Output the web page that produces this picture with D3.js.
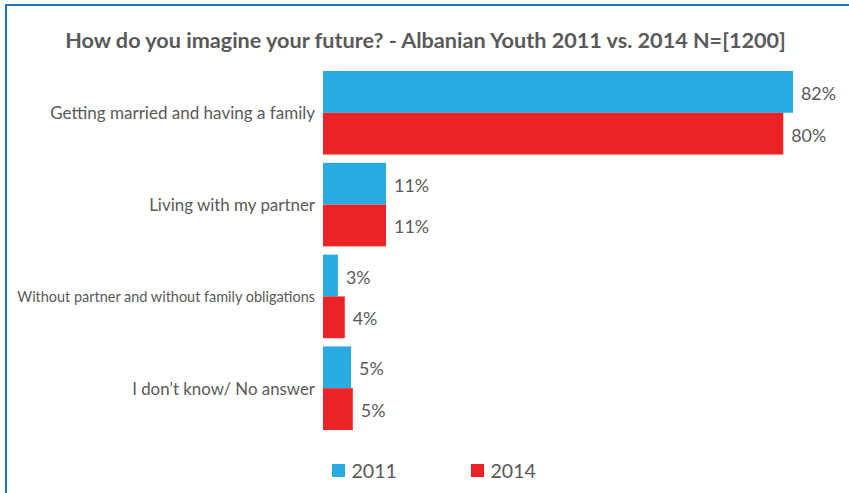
<!DOCTYPE html>
<html><head><meta charset="utf-8">
<script src="https://cdn.jsdelivr.net/npm/d3@7"></script>
<style>
html,body{margin:0;padding:0;background:#fff;}
svg{display:block;}
text{font-family:"Lato","Open Sans",sans-serif;fill:#595959;}
</style></head>
<body>
<svg id="chart" width="849" height="493"></svg>
<script>
const title = "How do you imagine your future? - Albanian Youth 2011 vs. 2014 N=[1200]";
const categories = ["Getting married and having a family", "Living with my partner", "Without partner and without family obligations", "I don\u2019t know/ No answer"];
const seriesNames = ["2011", "2014"];
const values2011 = [82, 11, 2.6, 4.9];
const values2014 = [80.3, 11, 3.8, 5.2];
const colors = ["#29abe2", "#ed2224"];

const svg = d3.select("#chart");
const W = 849, H = 493;

// frame
svg.append("path")
  .attr("d", `M6,${H} L6,5 L${W},5`)
  .attr("fill", "none").attr("stroke", "#1f78c1").attr("stroke-width", 2);

function fit(sel, target) {
  const node = sel.node();
  const fs = parseFloat(sel.attr("font-size"));
  const w = node.getComputedTextLength();
  const nf = fs * target / w;
  sel.attr("font-size", nf);
  return nf;
}

// title
const t = svg.append("text").attr("x", 425.5).attr("y", 48)
  .attr("text-anchor", "middle").attr("font-weight", "bold")
  .attr("font-size", 20).text(title);
fit(t, 721);

const x = d3.scaleLinear().domain([0, d3.max(values2011)]).range([323, 793]);
const y = d3.scaleBand().domain(categories).range([71, 430]).paddingInner(0.09).paddingOuter(0);
const ySub = d3.scaleBand().domain(seriesNames).range([0, y.bandwidth()]).padding(0);

const rows = categories.map((c, i) => ({cat: c, vals: [values2011[i], values2014[i]]}));

// size for value labels: "82%" about 35px wide
const probe = svg.append("text").attr("font-size", 17).text("82%");
const valueFs = fit(probe, 35);
probe.remove();

const labelWidths = [265, 166, 298, 183];
const g = svg.append("g");
rows.forEach((r, i) => {
  const gy = y(r.cat);
  const lab = g.append("text").attr("x", 315).attr("y", gy + y.bandwidth() / 2)
    .attr("text-anchor", "end").attr("dominant-baseline", "central")
    .attr("font-size", 15).text(r.cat);
  fit(lab, labelWidths[i]);
  r.vals.forEach((v, j) => {
    g.append("rect")
      .attr("x", x(0)).attr("y", gy + ySub(seriesNames[j]))
      .attr("width", x(v) - x(0)).attr("height", ySub.bandwidth())
      .attr("fill", colors[j]);
    g.append("text")
      .attr("x", x(v) + 8).attr("y", gy + ySub(seriesNames[j]) + ySub.bandwidth() / 2 + 1)
      .attr("dominant-baseline", "central").attr("font-size", valueFs)
      .text(Math.round(v) + "%");
  });
});

// legend
const legX = [332, 471];
seriesNames.forEach((s, j) => {
  svg.append("rect").attr("x", legX[j]).attr("y", 464).attr("width", 13).attr("height", 13).attr("fill", colors[j]);
  const lt = svg.append("text").attr("x", legX[j] + 19.5).attr("y", 470.5)
    .attr("dominant-baseline", "central").attr("font-size", 21).text(s);
  fit(lt, 45.5);
});
</script>
</body></html>
